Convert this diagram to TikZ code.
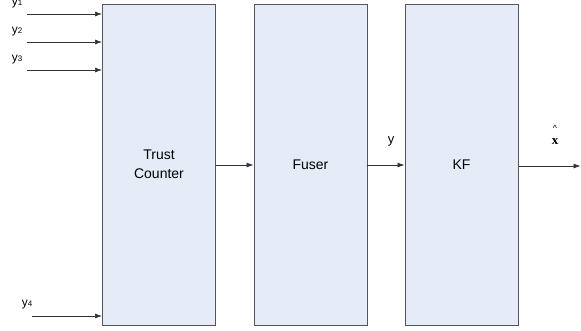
\documentclass[tikz,border=0pt]{standalone}
\usepackage{fontspec}
\setmainfont{Liberation Sans}
\usetikzlibrary{arrows.meta}
\definecolor{boxfill}{RGB}{230,236,247}
\definecolor{boxline}{RGB}{85,85,95}
\tikzset{
  block/.style={draw=boxline, line width=1pt, fill=boxfill, minimum width=113pt,
    minimum height=321pt, inner sep=0pt, align=center, font=\fontsize{14pt}{19pt}\selectfont},
  sig/.style={draw=black!80, line width=0.7pt, -{Latex[length=7pt,width=5pt]}},
  lbl/.style={inner sep=0pt, font=\fontsize{12pt}{14pt}\selectfont}
}
\newcommand{\sigsub}[1]{y{\fontsize{8pt}{9pt}\selectfont #1}}
\begin{document}
\begin{tikzpicture}[x=1pt,y=-1pt]
  \useasboundingbox (0,0) rectangle (581,330);
  % processing blocks
  \node[block] (tc) at (159,164.5) {Trust\\Counter};
  \node[block] (fu) at (310.5,164.5) {Fuser};
  \node[block] (kf) at (461.5,164.5) {KF};
  % sensor inputs
  \coordinate (i1) at (27,14);
  \coordinate (i2) at (27,42);
  \coordinate (i3) at (27,70);
  \coordinate (i4) at (32,316);
  \draw[sig] (i1) -- (i1 -| tc.west);
  \draw[sig] (i2) -- (i2 -| tc.west);
  \draw[sig] (i3) -- (i3 -| tc.west);
  \draw[sig] (i4) -- (i4 -| tc.west);
  \node[lbl] (l1) at (17,4) {\sigsub{1}};
  \node[lbl] (l2) at (17,32) {\sigsub{2}};
  \node[lbl] (l3) at (17,60) {\sigsub{3}};
  \node[lbl] (l4) at (27,305) {\sigsub{4}};
  % chain between blocks
  \coordinate (m1) at (215.5,165);
  \coordinate (m2) at (366.5,165);
  \draw[sig] (m1) -- (m1 -| fu.west);
  \draw[sig] (m2) -- (m2 -| kf.west);
  \node[lbl, font=\fontsize{13pt}{14pt}\selectfont] (ly) at (391,141) {y};
  % estimate output
  \coordinate (out) at (580.5,166);
  \draw[sig] (out -| kf.east) -- (out);
  \node[inner sep=0pt, font=\fontsize{9pt}{9pt}\selectfont] (hat) at (555,128) {\^{}};
  \node[inner sep=0pt, font=\fontsize{13pt}{14pt}\selectfont] (lx) at (555,142) {\textbf{\fontspec{Liberation Serif}x}};
\end{tikzpicture}
\end{document}
